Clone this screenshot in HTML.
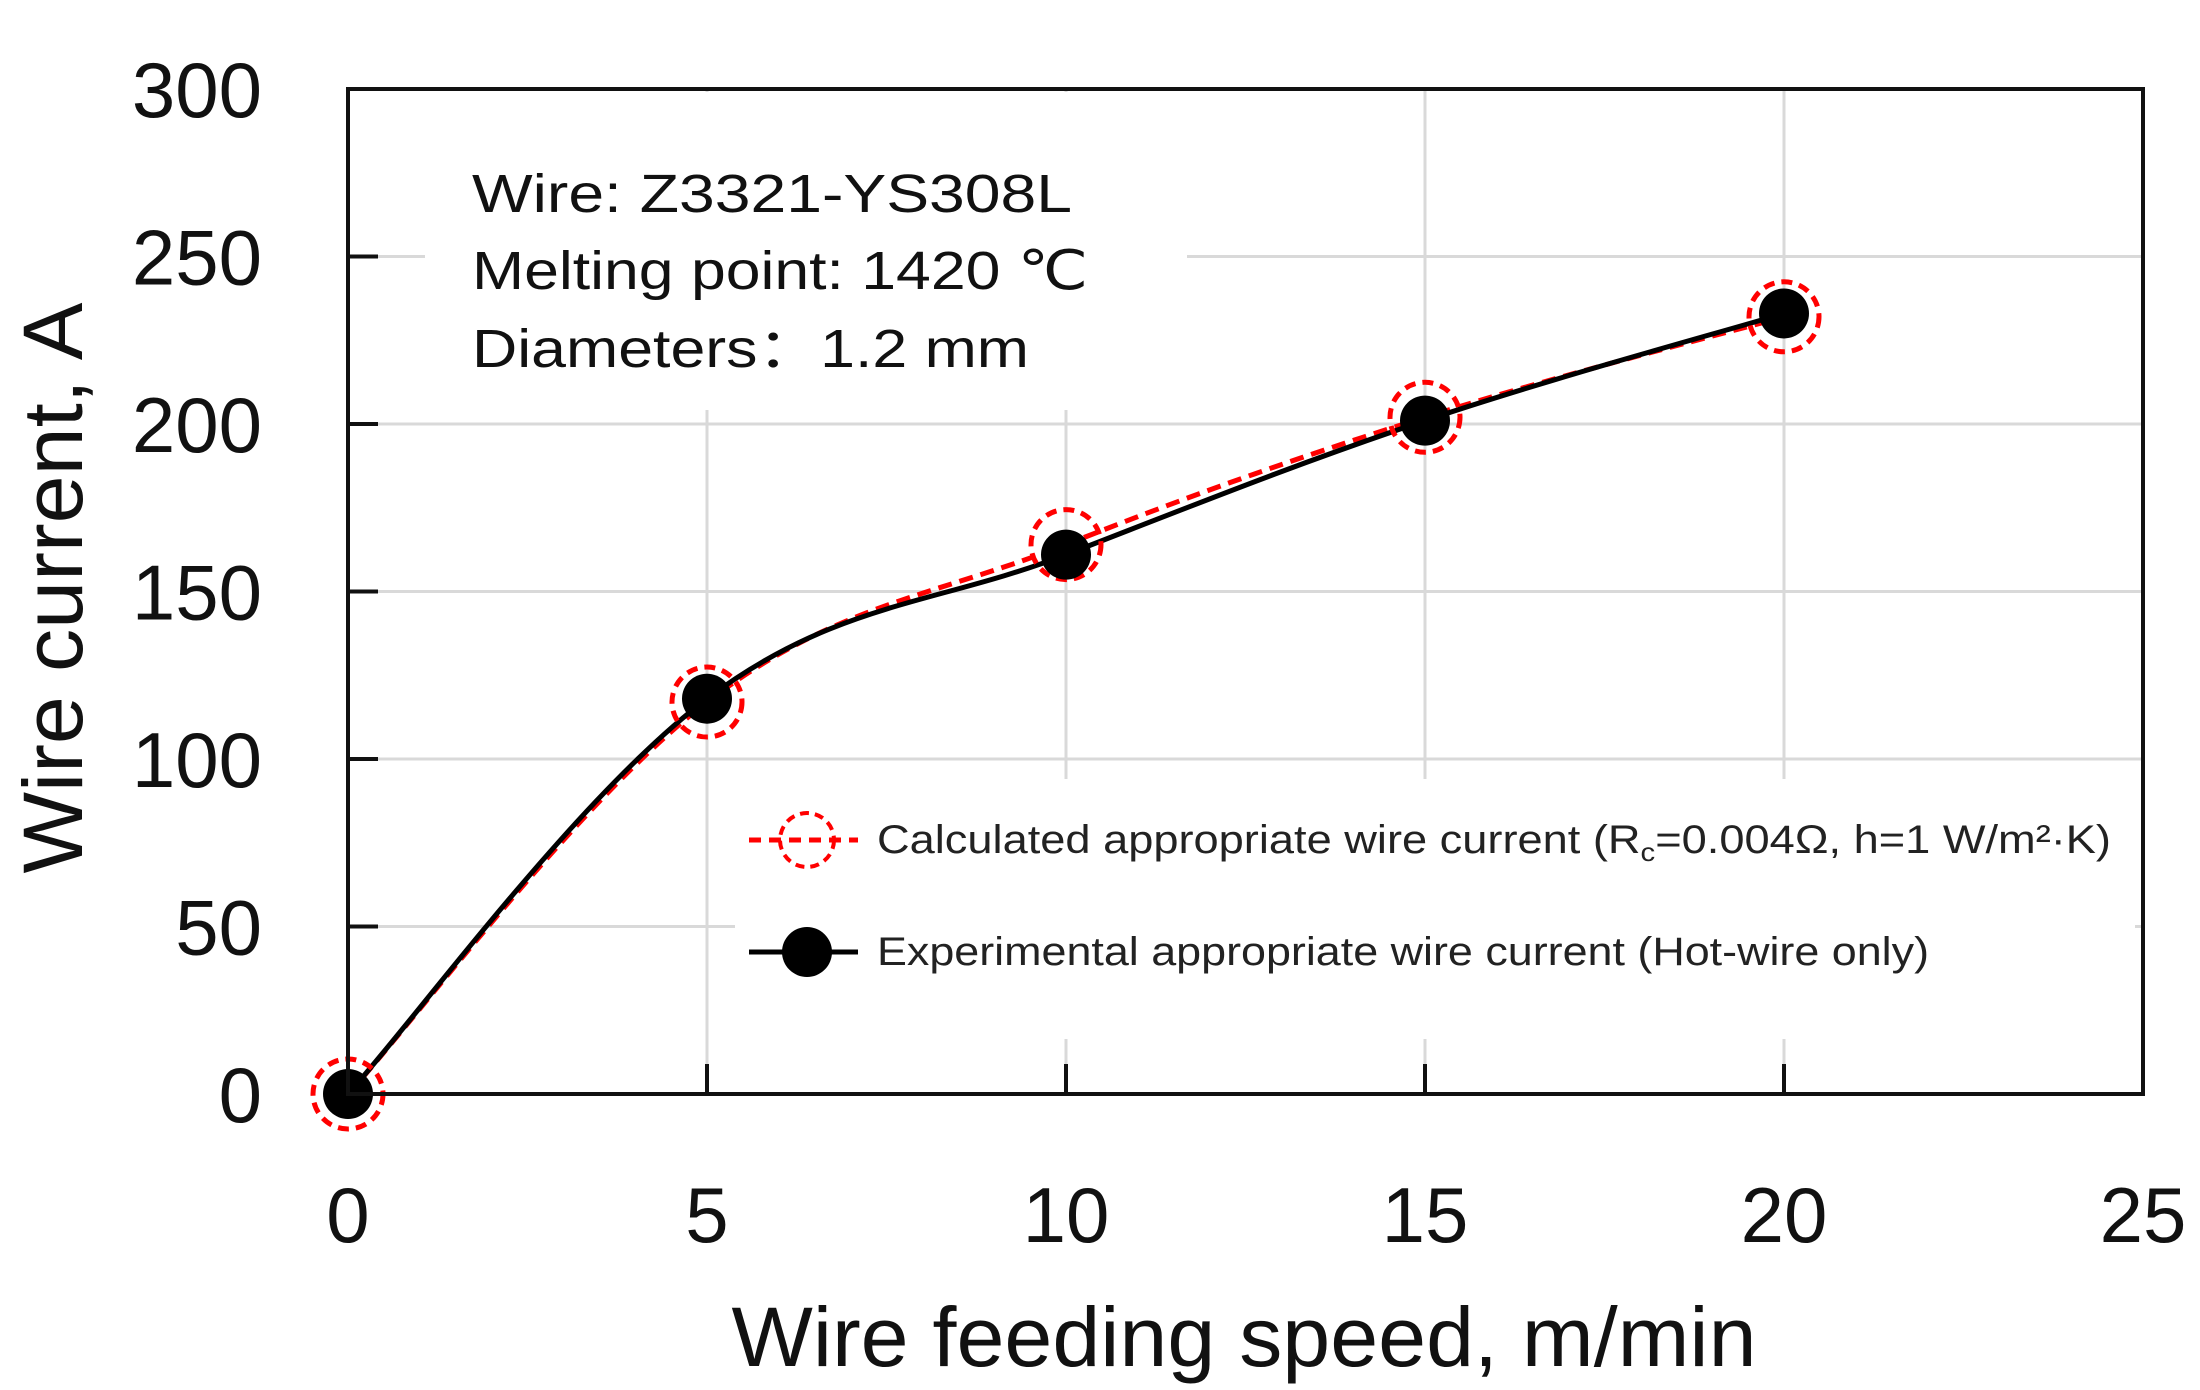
<!DOCTYPE html>
<html><head><meta charset="utf-8">
<style>
html,body{margin:0;padding:0;background:#fff;}
svg{display:block;font-family:"Liberation Sans",Arial,sans-serif;}
</style></head>
<body>
<svg id="chart" width="2200" height="1390" viewBox="0 0 2200 1390" xmlns="http://www.w3.org/2000/svg">
<g id="grid"></g>
<rect x="735" y="779" width="1400" height="260" fill="#fff"/>
<rect x="425" y="92" width="762" height="318" fill="#fff"/>
<g id="series"></g>
<rect x="348" y="89" width="1795" height="1005" fill="none" stroke="#111" stroke-width="4"/>
<g id="ticks"></g>
<g font-size="54" fill="#111">
<text x="472" y="212" textLength="600" lengthAdjust="spacingAndGlyphs">Wire: Z3321-YS308L</text>
<text x="472" y="289" textLength="616" lengthAdjust="spacingAndGlyphs">Melting point: 1420 ℃</text>
<text x="472" y="367" textLength="557" lengthAdjust="spacingAndGlyphs">Diameters：1.2 mm</text>
</g>
<g>
<g>
<line x1="749" y1="840" x2="858" y2="840" stroke="#f00" stroke-width="5" stroke-dasharray="12,8"/>
<circle cx="807" cy="840" r="27" fill="none" stroke="#f00" stroke-width="4" stroke-dasharray="9,6"/>
<text x="877" y="853" font-size="40" fill="#222" textLength="1234" lengthAdjust="spacingAndGlyphs">Calculated appropriate wire current (R<tspan font-size="26" dy="8">c</tspan><tspan dy="-8">=0.004Ω, h=1 W/m²·K)</tspan></text>
</g>
<g>
<line x1="749" y1="952" x2="858" y2="952" stroke="#000" stroke-width="5"/>
<circle cx="807" cy="952" r="25" fill="#000"/>
<text x="877" y="965" font-size="40" fill="#222" textLength="1052" lengthAdjust="spacingAndGlyphs">Experimental appropriate wire current (Hot-wire only)</text>
</g>
</g>
<text x="1244" y="1366" font-size="84" text-anchor="middle" fill="#111" textLength="1025" lengthAdjust="spacingAndGlyphs">Wire feeding speed, m/min</text>
<text transform="translate(82,588) rotate(-90)" font-size="84" text-anchor="middle" fill="#111" textLength="571" lengthAdjust="spacingAndGlyphs">Wire current, A</text>
</svg>
<script>
const xTicks=[0,5,10,15,20,25];
const yTicks=[0,50,100,150,200,250,300];
const speeds=[0,5,10,15,20];
const calcCurrent=[0,117,164,202,232];
const expCurrent=[0,118,161,201,233];
const NS='http://www.w3.org/2000/svg';
const X0=348,X1=2143,Y0=1094,Y1=89;
function sx(v){return X0+(v-0)/(25-0)*(X1-X0);}
function sy(v){return Y0-(v-0)/(300-0)*(Y0-Y1);}
function mk(tag,attrs,parent){const e=document.createElementNS(NS,tag);for(const k in attrs)e.setAttribute(k,attrs[k]);parent.appendChild(e);return e;}
const grid=document.getElementById('grid'),ticks=document.getElementById('ticks'),series=document.getElementById('series');
yTicks.forEach(v=>{
  if(v>0&&v<300){const l=mk('line',{x1:X0,x2:X1,y1:sy(v),y2:sy(v),stroke:'#d9d9d9','stroke-width':3},grid);
  
  }
  if(v>0&&v<300){const t=mk('line',{x1:X0,x2:X0+30,y1:sy(v),y2:sy(v),stroke:'#111','stroke-width':4},ticks);
  
  }
  const tx=mk('text',{x:262,y:sy(v)+28,'font-size':78,'text-anchor':'end',fill:'#111'},ticks);
  tx.textContent=v;
  
  
});
xTicks.forEach(v=>{
  if(v>0&&v<25){const l=mk('line',{x1:sx(v),x2:sx(v),y1:Y1,y2:Y0,stroke:'#d9d9d9','stroke-width':3},grid);
  
  
  const t=mk('line',{x1:sx(v),x2:sx(v),y1:Y0-30,y2:Y0,stroke:'#111','stroke-width':4},ticks);
  
  }
  const tx=mk('text',{x:sx(v),y:1242,'font-size':78,'text-anchor':'middle',fill:'#111'},ticks);
  tx.textContent=v;
  
  
});
function smoothPath(xs,ys){
  const p=xs.map((x,i)=>[sx(x),sy(ys[i])]);
  let d='M'+p[0][0]+','+p[0][1];
  for(let i=0;i<p.length-1;i++){
    const p0=p[i-1]||p[i],p1=p[i],p2=p[i+1],p3=p[i+2]||p2;
    const t=0.18;
    const c1=[p1[0]+(p2[0]-p0[0])*t,p1[1]+(p2[1]-p0[1])*t];
    const c2=[p2[0]-(p3[0]-p1[0])*t,p2[1]-(p3[1]-p1[1])*t];
    d+=' C'+c1[0]+','+c1[1]+' '+c2[0]+','+c2[1]+' '+p2[0]+','+p2[1];
  }
  return d;
}
const cl=mk('path',{d:smoothPath(speeds,calcCurrent),fill:'none',stroke:'#f00','stroke-width':5,'stroke-dasharray':'14,8'},series);


const el=mk('path',{d:smoothPath(speeds,expCurrent),fill:'none',stroke:'#000','stroke-width':5},series);


speeds.forEach((s,i)=>{
  const c=mk('circle',{cx:sx(s),cy:sy(calcCurrent[i]),r:35,fill:'none',stroke:'#f00','stroke-width':5,'stroke-dasharray':'11,7'},series);
  
  
  const e=mk('circle',{cx:sx(s),cy:sy(expCurrent[i]),r:25,fill:'#000'},series);
  
  
});
</script>
</body></html>
